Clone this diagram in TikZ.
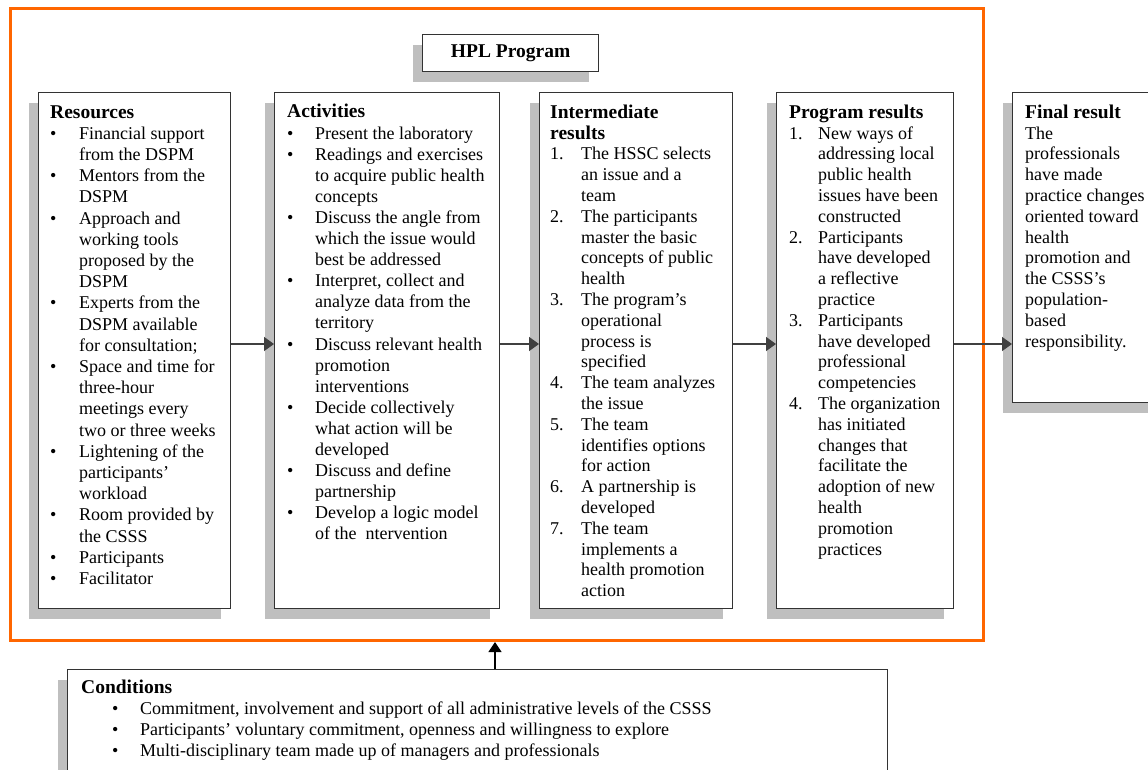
\documentclass[tikz,border=0pt]{standalone}
\usepackage{fontspec}
\setmainfont{Liberation Serif}
\usetikzlibrary{shadows,arrows.meta,calc}
\definecolor{frameorange}{HTML}{FF6600}
\definecolor{shadowgray}{HTML}{BFBFBF}
\definecolor{boxline}{HTML}{333333}
\definecolor{arrowgray}{HTML}{404040}
\newcommand\hd[1]{{\fontsize{19.5}{20.7}\selectfont\bfseries #1}}
\begin{document}
\begin{tikzpicture}[x=1pt,y=-1pt,
  box/.style={draw=boxline, line width=1.2pt, fill=white, inner sep=0pt, anchor=north west,
    drop shadow={shadow xshift=-10pt, shadow yshift=-10pt, fill=shadowgray, opacity=1}},
  txt/.style={inner sep=0pt, anchor=north west, align=left, font=\fontsize{18}{20.8}\selectfont},
  conn/.style={draw=arrowgray, line width=1.6pt, -{Triangle[length=10pt,width=14pt]}},
  upconn/.style={draw=black, line width=1.2pt, -{Triangle[length=10pt,width=13pt]}},
  frame/.style={draw=frameorange, line width=3pt, inner sep=0pt, anchor=north west},
]
\clip (0,0) rectangle (1148,769);
\fill[white] (0,0) rectangle (1148,769);

% outer orange frame
\node[frame, minimum width=973pt, minimum height=632pt] (frame) at (9,7) {};

% HPL Program title box
\node[box, minimum width=176pt, minimum height=37pt] (hpl) at (422,34) {\hd{HPL Program}};

% column boxes
\node[box, minimum width=192pt, minimum height=516pt] (res) at (38,92) {};
\node[box, minimum width=225pt, minimum height=516pt] (act) at (274,92) {};
\node[box, minimum width=193pt, minimum height=516pt] (int) at (539,92) {};
\node[box, minimum width=177pt, minimum height=516pt] (prog) at (776,92) {};
\node[box, minimum width=200pt, minimum height=310pt] (fin) at (1012,92) {};
\node[box, minimum width=820pt, minimum height=150pt] (cond) at (67,669) {};

% Resources text
\node[txt, font=\fontsize{18}{21.2}\selectfont] (restxt) at ($(res.north west)+(12pt,-11pt)$) {%
\begin{tabular}{@{}p{29pt}@{}l@{}}
\multicolumn{2}{@{}l@{}}{\hd{Resources}}\\
\textbullet & Financial support\\
 & from the DSPM\\
\textbullet & Mentors from the\\
 & DSPM\\
\textbullet & Approach and\\
 & working tools\\
 & proposed by the\\
 & DSPM\\
\textbullet & Experts from the\\
 & DSPM available\\
 & for consultation;\\
\textbullet & Space and time for\\
 & three-hour\\
 & meetings every\\
 & two or three weeks\\
\textbullet & Lightening of the\\
 & participants’\\
 & workload\\
\textbullet & Room provided by\\
 & the CSSS\\
\textbullet & Participants\\
\textbullet & Facilitator
\end{tabular}};

% Activities text
\node[txt, font=\fontsize{18}{21.1}\selectfont] (acttxt) at ($(act.north west)+(13pt,-11pt)$) {%
\begin{tabular}{@{}p{28pt}@{}l@{}}
\multicolumn{2}{@{}l@{}}{\hd{Activities}}\\
\textbullet & Present the laboratory\\
\textbullet & Readings and exercises\\
 & to acquire public health\\
 & concepts\\
\textbullet & Discuss the angle from\\
 & which the issue would\\
 & best be addressed\\
\textbullet & Interpret, collect and\\
 & analyze data from the\\
 & territory\\
\textbullet & Discuss relevant health\\
 & promotion\\
 & interventions\\
\textbullet & Decide collectively\\
 & what action will be\\
 & developed\\
\textbullet & Discuss and define\\
 & partnership\\
\textbullet & Develop a logic model\\
 & of the~ ntervention
\end{tabular}};

% Intermediate results text
\node[txt] (inttxt) at ($(int.north west)+(11pt,-11.5pt)$) {%
\begin{tabular}{@{}p{31pt}@{}l@{}}
\multicolumn{2}{@{}l@{}}{\hd{Intermediate}}\\
\multicolumn{2}{@{}l@{}}{\hd{results}}\\
1. & The HSSC selects\\
 & an issue and a\\
 & team\\
2. & The participants\\
 & master the basic\\
 & concepts of public\\
 & health\\
3. & The program’s\\
 & operational\\
 & process is\\
 & specified\\
4. & The team analyzes\\
 & the issue\\
5. & The team\\
 & identifies options\\
 & for action\\
6. & A partnership is\\
 & developed\\
7. & The team\\
 & implements a\\
 & health promotion\\
 & action
\end{tabular}};

% Program results text
\node[txt] (progtxt) at ($(prog.north west)+(13pt,-11.5pt)$) {%
\begin{tabular}{@{}p{29pt}@{}l@{}}
\multicolumn{2}{@{}l@{}}{\hd{Program results}}\\
1. & New ways of\\
 & addressing local\\
 & public health\\
 & issues have been\\
 & constructed\\
2. & Participants\\
 & have developed\\
 & a reflective\\
 & practice\\
3. & Participants\\
 & have developed\\
 & professional\\
 & competencies\\
4. & The organization\\
 & has initiated\\
 & changes that\\
 & facilitate the\\
 & adoption of new\\
 & health\\
 & promotion\\
 & practices
\end{tabular}};

% Final result text
\node[txt] (fintxt) at ($(fin.north west)+(13pt,-11.5pt)$) {%
\begin{tabular}{@{}l@{}}
\hd{Final result}\\
The\\
professionals\\
have made\\
practice changes\\
oriented toward\\
health\\
promotion and\\
the CSSS’s\\
population-\\
based\\
responsibility.
\end{tabular}};

% Conditions text
\node[txt, font=\fontsize{18}{21}\selectfont] (condtxt) at ($(cond.north west)+(14pt,-9.3pt)$) {%
\begin{tabular}{@{}p{31pt}@{}p{28pt}@{}l@{}}
\multicolumn{3}{@{}l@{}}{\hd{Conditions}}\\
 & \textbullet & Commitment, involvement and support of all administrative levels of the CSSS\\
 & \textbullet & Participants’ voluntary commitment, openness and willingness to explore\\
 & \textbullet & Multi-disciplinary team made up of managers and professionals
\end{tabular}};

% connectors
\coordinate (ay) at (0,344);
\coordinate (ux) at (495,0);
\draw[conn] (res.east |- ay) -- (act.west |- ay);
\draw[conn] (act.east |- ay) -- (int.west |- ay);
\draw[conn] (int.east |- ay) -- (prog.west |- ay);
\draw[conn] (prog.east |- ay) -- (fin.west |- ay);
\draw[upconn] (cond.north -| ux) -- (frame.south -| ux);
\end{tikzpicture}
\end{document}
